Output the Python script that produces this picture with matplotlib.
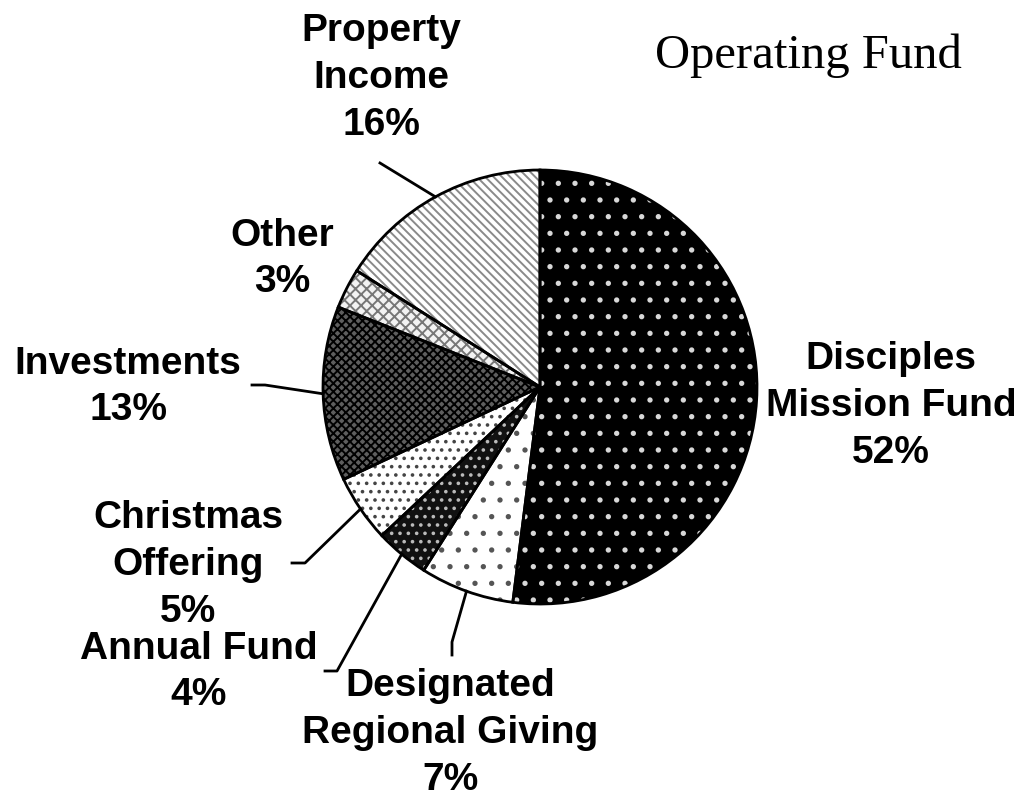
import matplotlib.pyplot as plt
import numpy as np

# slices, clockwise from 12 o'clock
names = ['Disciples\nMission Fund', 'Designated\nRegional Giving', 'Annual Fund',
         'Christmas\nOffering', 'Investments', 'Other', 'Property\nIncome']
shares = [52, 7, 4, 5, 13, 3, 16]

# fill styles (face, hatch pattern, hatch colour)
faces = ['black', 'white', '#111111', 'white', '#5e5e5e', '#f2f2f2', 'white']
hatches = ['.', '.', '..', '..', 'xxxx', 'xxx', '\\\\\\\\']
hatch_cols = ['#d8d8d8', '#555555', '#bbbbbb', '#444444', 'black', '#777777', '#8a8a8a']

# label centres and leader elbows, in pixels of the 1018x802 canvas
label_px = [(891, 406), (450, 733), (199, 672), (188, 565), (128, 387), (282, 259), (381, 78)]
leader_px = [None, [(452, 655), (452, 642)], [(325, 671), (337, 671)],
             [(292, 563), (305, 563)], [(252, 385), (265, 385)], None, [(380, 163)]]

W, H = 1018, 802
CX, CY, R = 540, 387, 217

plt.rcParams['hatch.linewidth'] = 1.4

fig = plt.figure(figsize=(W / 100, H / 100), dpi=100)
ax = fig.add_axes([(CX - R) / W, (H - CY - R) / H, 2 * R / W, 2 * R / H])
ax.axis('off')


def to_data(p):
    return (p[0] - CX) / R, (CY - p[1]) / R


# faces
base, _ = ax.pie(shares, startangle=90, counterclock=False, radius=1,
                 colors=faces, wedgeprops=dict(linewidth=0))
# hatching
hatched, _ = ax.pie(shares, startangle=90, counterclock=False, radius=1,
                    wedgeprops=dict(linewidth=0, fill=False))
for w, h, c in zip(hatched, hatches, hatch_cols):
    w.set_hatch(h)
    w.set_edgecolor(c)
# outlines
outl, _ = ax.pie(shares, startangle=90, counterclock=False, radius=1,
                 wedgeprops=dict(linewidth=2, fill=False, edgecolor='black'))
ax.set_xlim(-1, 1)
ax.set_ylim(-1, 1)

for w, name, pct, lp, ld in zip(base, names, shares, label_px, leader_px):
    x, y = to_data(lp)
    ax.text(x, y, f'{name}\n{pct}%', ha='center', va='center', fontsize=28,
            fontweight='bold', family='Liberation Sans', linespacing=1.38,
            clip_on=False)
    if ld is not None:
        mid = np.deg2rad((w.theta1 + w.theta2) / 2)
        pts = [to_data(p) for p in ld] + [(np.cos(mid), np.sin(mid))]
        xs, ys = zip(*pts)
        ax.plot(xs, ys, color='black', lw=2, clip_on=False)

fig.text(808 / W, 1 - 68 / H, 'Operating Fund', ha='center', va='baseline',
         fontsize=35, family='Liberation Serif')

fig.savefig('out.png', dpi=100)
